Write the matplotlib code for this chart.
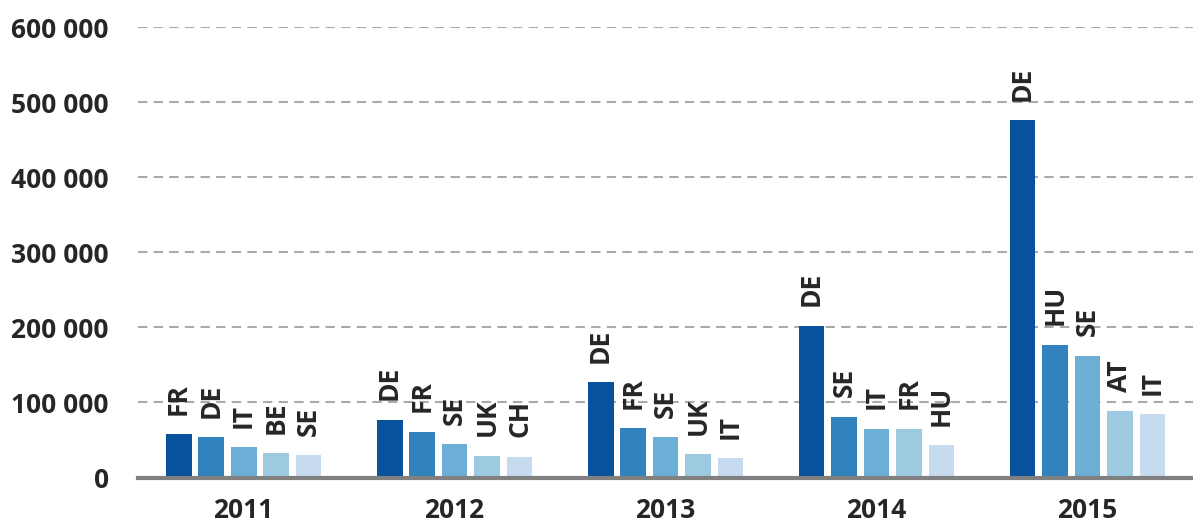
import matplotlib
matplotlib.use("Agg")
import matplotlib.pyplot as plt
import numpy as np

# Top five countries per year (ranked).
years = ["2011", "2012", "2013", "2014", "2015"]
countries = [
    ["FR", "DE", "IT", "BE", "SE"],
    ["DE", "FR", "SE", "UK", "CH"],
    ["DE", "FR", "SE", "UK", "IT"],
    ["DE", "SE", "IT", "FR", "HU"],
    ["DE", "HU", "SE", "AT", "IT"],
]
values = [
    [57500, 53500, 40500, 32500, 29500],
    [77000, 61000, 44000, 29000, 28000],
    [127000, 66000, 54000, 31000, 26000],
    [202000, 81000, 65000, 65000, 43000],
    [476000, 177000, 162000, 88000, 84000],
]
rank_colors = ["#08519c", "#3182bd", "#6baed6", "#9ecae1", "#c6dbef"]

plt.rcParams['font.family'] = ['Open Sans', 'DejaVu Sans']

fig = plt.figure(figsize=(11.93, 5.28), dpi=100)
ax = fig.add_axes([0.1157, 0.0956, 0.8843, 0.8532])

x = np.arange(len(years))
step = 0.154
width = 0.123

for rank in range(5):
    pos = x + (rank - 2) * step
    heights = [v[rank] for v in values]
    ax.bar(pos, heights, width, color=rank_colors[rank], zorder=3)
    for px, h, grp in zip(pos, heights, countries):
        ax.annotate(grp[rank], (px, h), xytext=(0, 14), textcoords="offset points",
                    rotation=90, ha="center", va="bottom", fontsize=19,
                    fontweight="bold", color="#262626", annotation_clip=False)

ax.set_xlim(-0.5, 4.5)
ax.set_ylim(0, 600000)
ax.set_yticks(np.arange(0, 600001, 100000))
ax.set_yticklabels([f"{v:,}".replace(",", " ") for v in range(0, 600001, 100000)])
ax.set_xticks(x)
ax.set_xticklabels(years)

ax.grid(axis="y", linestyle=(0, (4.5, 3)), color="#aaaaaa", linewidth=1.5, zorder=0)
for side in ["left", "right", "top"]:
    ax.spines[side].set_visible(False)
ax.spines["bottom"].set_color("#808080")
ax.spines["bottom"].set_linewidth(3)
ax.spines["bottom"].set_zorder(4)

ax.tick_params(axis="both", length=0, labelsize=19, labelcolor="#262626")
ax.tick_params(axis="y", pad=21)
ax.tick_params(axis="x", pad=14)
for lbl in ax.get_xticklabels() + ax.get_yticklabels():
    lbl.set_fontweight("bold")

fig.savefig("out.png", dpi=100)
